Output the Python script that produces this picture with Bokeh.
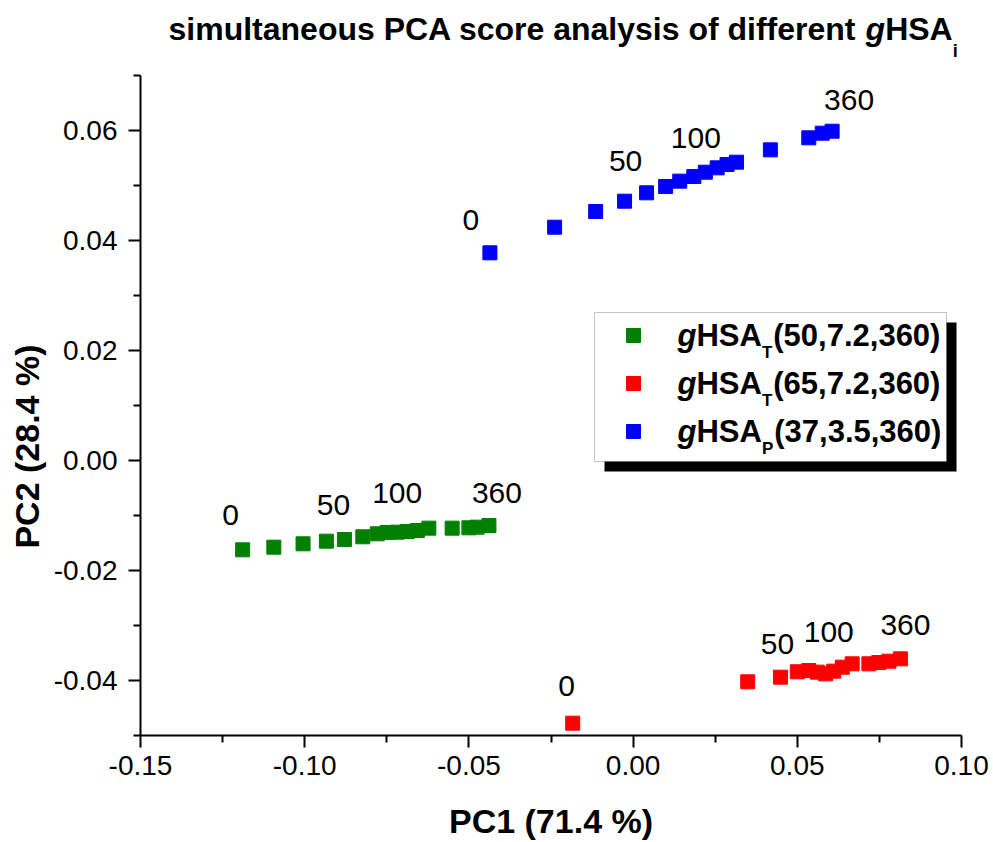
import math
from bokeh.plotting import figure
from bokeh.layouts import column, row
from bokeh.models import (Range1d, FixedTicker, NumeralTickFormatter, Label,
                          BoxAnnotation, ColumnDataSource)
from bokeh.core.properties import value
from bokeh.embed import file_html
from bokeh.resources import INLINE

# ---- PCA scores (PC1, PC2) for each time series ----
green_x = [-0.1189, -0.1094, -0.1005, -0.0934, -0.0879, -0.0823, -0.0779, -0.0749,
           -0.0718, -0.0688, -0.0657, -0.0622, -0.0551, -0.0500, -0.0475, -0.0439]
green_y = [-0.01624, -0.01576, -0.01515, -0.01467, -0.01436, -0.01387, -0.01333, -0.01309,
           -0.01303, -0.01291, -0.01273, -0.01230, -0.01230, -0.01224, -0.01212, -0.01182]

red_x = [-0.0184, 0.0349, 0.0449, 0.0500, 0.0535, 0.0561, 0.0586, 0.0611,
         0.0637, 0.0667, 0.0718, 0.0748, 0.0779, 0.0814]
red_y = [-0.04776, -0.04024, -0.03940, -0.03842, -0.03818, -0.03848, -0.03879, -0.03830,
         -0.03758, -0.03697, -0.03697, -0.03673, -0.03649, -0.03606]

blue_x = [-0.0436, -0.0239, -0.0114, -0.0026, 0.0041, 0.0099, 0.0142, 0.0185,
          0.0220, 0.0256, 0.0286, 0.0315, 0.0418, 0.0535, 0.0576, 0.0606]
blue_y = [0.03776, 0.04242, 0.04527, 0.04715, 0.04867, 0.04982, 0.05079, 0.05164,
          0.05242, 0.05321, 0.05382, 0.05424, 0.05648, 0.05867, 0.05951, 0.05987]

# time annotations (minutes) and the sample each one belongs to
time_labels = ["0", "50", "100", "360"]
green_label_idx = [0, 4, 9, 15]
red_label_idx = [0, 2, 7, 13]
blue_label_idx = [0, 3, 7, 15]

series_names = [("50,7.2,360", "T"), ("65,7.2,360", "T"), ("37,3.5,360", "P")]
series_colors = ["#008000", "#ff0000", "#0000ff"]

x_ticks = [-0.15, -0.10, -0.05, 0.0, 0.05, 0.10]
x_minor = [-0.125, -0.075, -0.025, 0.025, 0.075]
y_ticks = [-0.04, -0.02, 0.0, 0.02, 0.04, 0.06]
y_minor = [-0.05, -0.03, -0.01, 0.01, 0.03, 0.05, 0.07]

# ---- page geometry (absolute pixels) ----
W, H = 993, 842
TITLE_H = 70          # strip holding the title
SIDE_W = 50           # strip holding the rotated y-axis title
L, R, T, B = 140, 961, 75, 735   # plot frame
X0, X1 = -0.15, 0.10
Y0, Y1 = -0.05, 0.07
FONT = "Liberation Sans"


def px_x(px):
    return X0 + (px - L) * (X1 - X0) / (R - L)


def px_y(py):
    return Y1 - (py - T) * (Y1 - Y0) / (B - T)


def anchor(baseline, size):
    """Anchor that puts a text's baseline at the wanted pixel row."""
    return baseline - 0.36 * size


def strip(w, h, flip=True):
    """Blank figure whose data units are pixels."""
    yr = Range1d(h, 0) if flip else Range1d(0, h)
    f = figure(width=w, height=h, x_range=Range1d(0, w), y_range=yr,
               output_backend="svg", toolbar_location=None, min_border=0,
               x_axis_type=None, y_axis_type=None)
    f.outline_line_color = None
    f.background_fill_color = "white"
    f.border_fill_color = "white"
    f.title.visible = False
    return f


# ---- main plot ----
p = figure(width=W - SIDE_W, height=H - TITLE_H,
           x_range=Range1d(X0, X1), y_range=Range1d(Y0, Y1),
           output_backend="svg", toolbar_location=None,
           min_border_left=L - SIDE_W, min_border_right=W - R,
           min_border_top=T - TITLE_H, min_border_bottom=H - B)
p.title.visible = False
p.grid.visible = False
p.outline_line_color = None
p.background_fill_color = "white"
p.border_fill_color = "white"

p.xaxis.ticker = FixedTicker(ticks=x_ticks, minor_ticks=x_minor)
p.yaxis.ticker = FixedTicker(ticks=y_ticks, minor_ticks=y_minor)
for ax in (p.xaxis, p.yaxis):
    ax.formatter = NumeralTickFormatter(format="0.00")
    ax.axis_line_width = 2
    ax.axis_line_color = "black"
    ax.major_tick_line_width = 2
    ax.minor_tick_line_width = 2
    ax.major_tick_in = 0
    ax.major_tick_out = 12
    ax.minor_tick_in = 0
    ax.minor_tick_out = 7
    ax.major_label_text_font = FONT
    ax.major_label_text_font_size = "28px"
    ax.major_label_text_color = "black"

p.xaxis.axis_label = "PC1 (71.4 %)"
p.xaxis.axis_label_text_font = FONT
p.xaxis.axis_label_text_font_size = "34px"
p.xaxis.axis_label_text_font_style = "bold"
p.xaxis.axis_label_text_color = "black"
p.xaxis.major_label_standoff = 8
p.yaxis.major_label_standoff = 11
p.xaxis.axis_label_standoff = 24

# ---- score markers ----
xs_all = [green_x, red_x, blue_x]
ys_all = [green_y, red_y, blue_y]
for xs, ys, c in zip(xs_all, ys_all, series_colors):
    p.scatter(xs, ys, marker="square", size=14, fill_color=c, line_color=c)

# ---- time annotations next to selected samples ----
PF = 30
label_idx_all = [green_label_idx, red_label_idx, blue_label_idx]
label_shift = [
    [(-12, -24), (-11, -24), (-10, -28), (8, -22)],
    [(-6, -26), (-3, -22), (-5, -28), (5, -23)],
    [(-19, -22), (1, -29), (2, -28), (17, -20)],
]
for xs, ys, idx, shift in zip(xs_all, ys_all, label_idx_all, label_shift):
    src = ColumnDataSource(dict(
        x=[xs[i] for i in idx], y=[ys[i] for i in idx], t=time_labels,
        xo=[s[0] for s in shift], yo=[anchor(s[1], PF) for s in shift]))
    p.text(x="x", y="y", text="t", x_offset="xo", y_offset="yo", source=src,
           text_font=value(FONT), text_font_size=value(f"{PF}px"),
           text_align="center", text_baseline="alphabetic", text_color="black")

# ---- legend with drop shadow ----
box_l, box_r, box_t, box_b = 594, 946, 312, 461
p.add_layout(BoxAnnotation(left=px_x(box_l + 10), right=px_x(box_r + 10),
                           top=px_y(box_t + 10), bottom=px_y(box_b + 10),
                           fill_color="black", fill_alpha=1.0, line_color=None,
                           level="underlay"))
p.add_layout(BoxAnnotation(left=px_x(box_l), right=px_x(box_r),
                           top=px_y(box_t), bottom=px_y(box_b),
                           fill_color="white", fill_alpha=1.0,
                           line_color="#404040", line_width=1, level="underlay"))

row_y = [335, 383, 431]
p.scatter([px_x(633)] * 3, [px_y(r) for r in row_y], marker="square", size=14,
          fill_color=series_colors, line_color=series_colors)
LF, SF = 31, 17
for (params, sub), ry in zip(series_names, row_y):
    base = ry + 11
    lx = 677
    pieces = [("g", "bold italic", LF, 0, 0.611),
              ("HSA", "bold", LF, 0, 2.111),
              (sub, "bold", SF, 12, 0.667 if sub == "P" else 0.611),
              ("(" + params + ")", "bold", LF, 0, 5.392)]
    for text, style, size, drop, em in pieces:
        p.add_layout(Label(x=px_x(lx), y=px_y(anchor(base + drop, size)), text=text,
                           text_font=FONT, text_font_style=style,
                           text_font_size=f"{size}px", text_color="black",
                           text_align="left", text_baseline="alphabetic"))
        lx += em * size + (1 if drop else 0)

# ---- title strip: italic g and subscript i ----
top = strip(W, TITLE_H)
TF = 32
tx = 168
title_base = 40
title_parts = [
    ("simultaneous PCA score analysis of different ", "bold", TF, 0, 21.784),
    ("g", "bold italic", TF, 0, 0.611),
    ("HSA", "bold", TF, 0, 2.111),
    ("i", "bold", 18, 17, 0.278),
]
for text, style, size, drop, em in title_parts:
    top.add_layout(Label(x=tx, y=anchor(title_base + drop, size), text=text,
                         text_font=FONT, text_font_style=style,
                         text_font_size=f"{size}px", text_color="black",
                         text_align="left", text_baseline="alphabetic"))
    tx += em * size + (1 if drop else 0)

# ---- side strip: rotated y-axis title (y measured from the strip bottom) ----
side = strip(SIDE_W, H - TITLE_H, flip=False)
side.add_layout(Label(x=26, y=H - 504, text="PC2 (28.4 %)", angle=math.pi / 2,
                      text_font=FONT, text_font_style="bold", text_font_size="34px",
                      text_color="black", text_align="center",
                      text_baseline="middle"))

layout = column(top, row(side, p, spacing=0), spacing=0)
open("out.html", "w").write(file_html(layout, INLINE))
